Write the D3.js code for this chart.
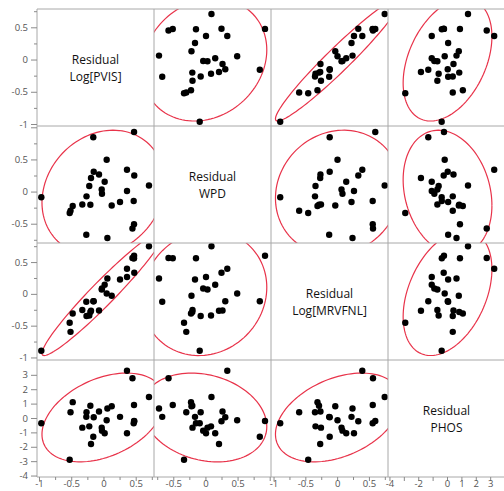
<!DOCTYPE html>
<html><head><meta charset="utf-8">
<script src="https://cdn.jsdelivr.net/npm/d3@7"></script>
<style>body{margin:0;background:#fff;} svg{display:block;}</style>
</head><body><svg id="c" width="504" height="491"></svg>
<script>
// ---- data (28 observations) ----
const variables = ["Log[PVIS]", "WPD", "Log[MRVFNL]", "PHOS"];
const diagTop = ["Residual", "Residual", "Residual", "Residual"];
const diagBottom = ["Log[PVIS]", "WPD", "Log[MRVFNL]", "PHOS"];
const pvis   = [0.706,-0.964,-0.524,0.450,0.365,0.474,0.475,0.469,0.478,0.365,0.257,0.128,0.061,0.050,0.019,-0.023,-0.027,-0.069,-0.151,-0.158,-0.193,-0.203,-0.477,-0.328,-0.220,-0.263,-0.266,-0.511];
const wpd    = [0.094,-0.089,-0.333,-0.574,0.340,-0.508,0.927,-0.147,0.250,0.009,-0.162,-0.217,-0.722,0.494,0.152,-0.035,0.032,0.266,0.309,0.846,0.211,-0.204,-0.224,-0.201,0.087,-0.074,-0.672,-0.298];
const mrvfnl = [0.748,-0.895,-0.455,0.564,0.396,0.560,0.600,0.559,0.333,0.265,0.226,-0.029,0.242,0.006,0.143,0.084,0.069,-0.262,-0.117,-0.117,-0.266,-0.285,-0.309,-0.254,-0.340,-0.348,-0.125,-0.597];
const phos   = [1.46,-0.37,-2.90,2.76,3.28,0.90,-0.21,-0.36,-0.23,-1.06,0.08,0.82,0.66,-0.16,-1.06,-0.88,-0.67,0.45,0.05,-1.30,-1.81,0.85,1.10,-0.67,-0.58,0.40,0.08,0.40];
const series = [pvis, wpd, mrvfnl, phos];
const domains = [[-1.031, 0.784], [-0.80, 1.02], [-1.04, 0.80], [-4.10, 4.03]];
const majorTicks = [[-1, -0.5, 0, 0.5], [-0.5, 0, 0.5, 1], [-1, -0.5, 0, 0.5], [-4, -3, -2, -1, 0, 1, 2, 3]];
const minorTicks = [[-0.75, -0.25, 0.25, 0.75], [-0.75, -0.25, 0.25, 0.75], [-0.75, -0.25, 0.25, 0.75], []];
const yTickLabels = [["-1", "-0.5", "0", "0.5"], ["-0.5", "0", "0.5", ""], ["-1", "-0.5", "0", "0.5"], ["-4", "-3", "-2", "-1", "0", "1", "2", "3"]];
const xTickLabels = [["-1", "-0.5", "0", "0.5"], ["-0.5", "0", "0.5", ""], ["-1", "-0.5", "0", "0.5"], ["-4", "", "-2", "", "0", "1", "2", "3"]];
const ellipseLevel = 5.991; // chi-square(2) 0.95

// ---- layout ----
const X0 = 37, Y0 = 9, S = 117, N = 4;
const svg = d3.select("#c");
const xs = domains.map((d, j) => d3.scaleLinear().domain(d).range([X0 + j * S, X0 + (j + 1) * S]));
const ys = domains.map((d, i) => d3.scaleLinear().domain(d).range([Y0 + (i + 1) * S, Y0 + i * S]));
const FONT = "'Open Sans', 'Noto Sans', sans-serif";
const RED = "#e8334a";

const defs = svg.append("defs");
for (let i = 0; i < N; i++) for (let j = 0; j < N; j++) {
  defs.append("clipPath").attr("id", `cl${i}${j}`).append("rect")
    .attr("x", X0 + j * S).attr("y", Y0 + i * S).attr("width", S).attr("height", S);
}

function cov(a, b) {
  const ma = d3.mean(a), mb = d3.mean(b);
  let s = 0; for (let k = 0; k < a.length; k++) s += (a[k] - ma) * (b[k] - mb);
  return s / (a.length - 1);
}

for (let i = 0; i < N; i++) {
  for (let j = 0; j < N; j++) {
    const g = svg.append("g").attr("clip-path", `url(#cl${i}${j})`);
    const cx = X0 + j * S + S / 2, cy = Y0 + i * S + S / 2;
    if (i === j) {
      svg.append("text").attr("x", cx).attr("y", cy - 3.5).attr("text-anchor", "middle")
        .attr("font-family", FONT).attr("font-size", 12).attr("fill", "#111").text(diagTop[i]);
      svg.append("text").attr("x", cx).attr("y", cy + 13).attr("text-anchor", "middle")
        .attr("font-family", FONT).attr("font-size", 12).attr("fill", "#111").text(diagBottom[i]);
      continue;
    }
    const xv = series[j], yv = series[i];
    const mx = d3.mean(xv), my = d3.mean(yv);
    const sxx = cov(xv, xv), syy = cov(yv, yv), sxy = cov(xv, yv);
    const l11 = Math.sqrt(sxx), l21 = sxy / l11, l22 = Math.sqrt(syy - l21 * l21);
    const c = Math.sqrt(ellipseLevel);
    const pts = d3.range(0, 361, 3).map(deg => {
      const t = deg * Math.PI / 180, u = Math.cos(t), v = Math.sin(t);
      return [xs[j](mx + c * l11 * u), ys[i](my + c * (l21 * u + l22 * v))];
    });
    g.append("path").attr("d", d3.line()(pts)).attr("fill", "none")
      .attr("stroke", RED).attr("stroke-width", 1.2);
    g.selectAll("circle").data(d3.range(xv.length)).join("circle")
      .attr("cx", k => xs[j](xv[k])).attr("cy", k => ys[i](yv[k]))
      .attr("r", 3.2).attr("fill", "#000");
  }
}

// grid / frames
const frame = svg.append("g").attr("stroke", "#a8a8a8").attr("stroke-width", 1).attr("fill", "none");
for (let k = 0; k <= N; k++) {
  frame.append("line").attr("x1", X0 + k * S).attr("x2", X0 + k * S).attr("y1", Y0).attr("y2", Y0 + N * S);
  frame.append("line").attr("y1", Y0 + k * S).attr("y2", Y0 + k * S).attr("x1", X0).attr("x2", X0 + N * S);
}

// axes
function styleAxis(sel) {
  sel.select(".domain").remove();
  sel.selectAll(".tick line").attr("stroke", "#8a8a8a");
  sel.selectAll(".tick text").attr("fill", "#555").attr("font-family", FONT).attr("font-size", 9.5);
}
for (let i = 0; i < N; i++) {
  const gy = svg.append("g").attr("transform", `translate(${X0},0)`);
  gy.call(d3.axisLeft(ys[i]).tickValues(minorTicks[i]).tickSize(3).tickFormat(""));
  styleAxis(gy);
  const gy2 = svg.append("g").attr("transform", `translate(${X0},0)`);
  gy2.call(d3.axisLeft(ys[i]).tickValues(majorTicks[i]).tickSize(6).tickPadding(3)
    .tickFormat((d, k) => yTickLabels[i][k]));
  styleAxis(gy2);
}
for (let j = 0; j < N; j++) {
  const gx = svg.append("g").attr("transform", `translate(0,${Y0 + N * S})`);
  gx.call(d3.axisBottom(xs[j]).tickValues(minorTicks[j]).tickSize(3).tickFormat(""));
  styleAxis(gx);
  const gx2 = svg.append("g").attr("transform", `translate(0,${Y0 + N * S})`);
  gx2.call(d3.axisBottom(xs[j]).tickValues(majorTicks[j]).tickSize(4).tickPadding(0)
    .tickFormat((d, k) => xTickLabels[j][k]));
  styleAxis(gx2);
  gx2.selectAll(".tick text").attr("dy", "0.62em");
}
</script></body></html>
